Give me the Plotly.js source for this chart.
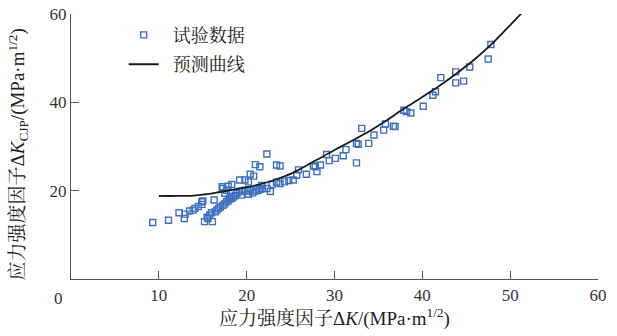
<!DOCTYPE html>
<html><head><meta charset="utf-8">
<script src="https://cdn.plot.ly/plotly-3.0.1.min.js"></script>
<style>html,body{margin:0;padding:0;background:#fff}#chart{width:617px;height:336px}</style>
</head><body><div id="chart"></div>
<script>
// Test data (ΔK, ΔK_CJP)
const testX = [9.3,11.1,12.3,12.9,13.0,13.5,13.9,14.5,14.9,15.0,16.3,
  15.2,15.6,16.1,15.5,15.8,16.0,16.4,16.6,16.8,17.0,17.3,17.5,17.7,17.9,18.1,18.3,18.5,18.7,18.9,19.2,19.5,19.8,20.1,20.4,20.7,21.0,21.3,21.5,21.8,22.3,22.7,22.9,23.4,23.8,24.3,24.8,25.3,
  14.1,14.9,17.3,17.5,17.7,17.2,17.9,18.3,19.2,19.8,20.2,20.4,20.8,21.0,21.5,22.3,23.4,23.8,20.2,21.7,19.4,18.1,
  25.7,25.9,26.8,27.8,28.0,27.6,28.4,29.1,29.4,30.1,31.0,31.3,32.5,32.7,32.5,33.1,33.9,34.5,35.6,35.8,36.7,36.9,37.9,38.2,38.7,40.1,41.2,41.5,42.1,43.8,44.7,43.8,45.4,47.5,47.8];
const testY = [12.8,13.3,15.0,13.7,14.7,15.4,15.6,16.4,16.9,17.7,17.9,
  13.0,13.7,13.0,14.0,14.5,15.0,15.2,15.6,16.0,16.3,16.7,17.0,17.5,17.7,18.1,18.3,18.6,18.9,19.4,19.8,19.9,20.1,19.9,20.1,19.5,19.9,20.1,20.3,20.5,20.5,19.8,21.4,21.9,21.6,22.0,22.3,22.4,
  16.0,17.5,20.5,19.4,20.1,20.9,21.0,21.4,22.4,22.4,22.0,23.7,23.3,25.9,25.4,28.3,25.8,25.6,19.2,21.2,19.0,18.3,
  23.5,24.7,23.7,25.4,24.3,25.6,25.8,28.2,26.8,27.3,27.9,29.3,26.3,30.5,30.7,34.1,30.7,32.6,33.7,35.1,34.6,34.5,38.2,37.9,37.6,39.1,41.6,42.4,45.6,44.4,44.8,46.9,48.0,49.8,53.1];
// Predicted curve
const predX = [10,12,14,15.5,17,19,21,23,25,26,28,30,32,34,36,38,40,42,44,46,48,50,51.3];
const predY = [18.8,18.8,18.9,19.2,19.7,20.4,21.2,22.3,23.8,24.8,27.0,29.2,31.3,33.5,36.0,38.7,41.2,43.8,46.7,49.8,53.4,57.5,60.2];
const xTicks = [10,20,30,40,50,60];
const yTicks = [20,40,60];
const serif = '"Liberation Serif","Noto Serif CJK SC","Noto Sans CJK SC",serif';

const traces = [
  {x: testX, y: testY, mode:'markers', type:'scatter', name:'  试验数据', legendgroup:'a',
   marker:{symbol:'square-open', size:6, color:'#3d6fc0', line:{width:1.4, color:'#3d6fc0'}}},
  {x: predX, y: predY, mode:'lines', type:'scatter', name:'  预测曲线', legendgroup:'b',
   line:{color:'#1a1a1a', width:1.8, shape:'spline'}}
];
const layout = {
  width:617, height:336,
  margin:{l:71, r:19, t:14, b:57},
  paper_bgcolor:'#fff', plot_bgcolor:'#fff',
  font:{family:serif, size:17, color:'#333'},
  showlegend:true,
  legend:{x:0.1, y:0.99, xanchor:'left', yanchor:'top', bgcolor:'rgba(0,0,0,0)', font:{size:18, family:serif, color:'#222'}, itemwidth:30, tracegroupgap:3},
  xaxis:{range:[0,60], tickvals:xTicks, ticktext:xTicks.map(String), ticks:'inside', ticklen:8, tickcolor:'#555',
    showline:true, linecolor:'#555', linewidth:1.2, showgrid:false, zeroline:false, mirror:false,
    tickfont:{family:serif, size:17, color:'#333'},
    title:{text:'应力强度因子Δ<i>K</i>/(MPa·m<sup>1/2</sup>)', font:{family:serif, size:19, color:'#222'}, standoff:8}},
  yaxis:{range:[0,60], tickvals:yTicks, ticktext:yTicks.map(String), ticks:'inside', ticklen:8, tickcolor:'#555',
    showline:true, linecolor:'#555', linewidth:1.2, showgrid:false, zeroline:false, mirror:false,
    tickfont:{family:serif, size:17, color:'#333'}},
  annotations:[
    {text:'0', xref:'x', yref:'paper', x:0, y:0, xshift:-13, yshift:-8, yanchor:'top', xanchor:'center', showarrow:false, font:{family:serif, size:17, color:'#333'}},
    {text:'应力强度因子Δ<i>K</i><sub>CJP</sub>/(MPa·m<sup>1/2</sup>)', xref:'paper', yref:'paper', x:0, y:0.5, xshift:-53, yshift:-8, textangle:-90, xanchor:'center', yanchor:'middle', showarrow:false, font:{family:serif, size:19, color:'#222'}}
  ]
};
Plotly.newPlot('chart', traces, layout, {displayModeBar:false, staticPlot:true});
</script></body></html>
